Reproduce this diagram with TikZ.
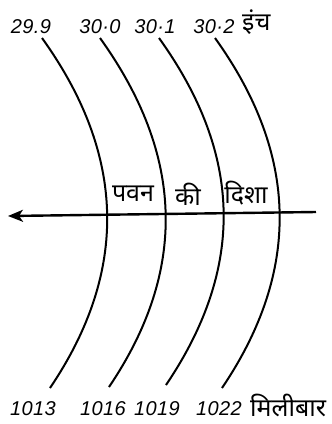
\documentclass[tikz,border=0pt]{standalone}
\usepackage{fontspec}
\newfontfamily\hindi[Script=Devanagari]{Noto Sans}
\newfontfamily\numfont[LetterSpace=2]{Liberation Sans}
\usetikzlibrary{arrows.meta}

\begin{document}
\begin{tikzpicture}[
  x=1pt, y=-1pt,
  >={Stealth[length=15pt,width=12pt,inset=4pt]},
  num/.style={font=\fontsize{20}{20}\selectfont\numfont\itshape, inner sep=0pt},
  hin/.style={font=\fontsize{25}{25}\selectfont\hindi, inner sep=0pt},
  isobar/.style={line width=2pt},
  wind/.style={->, line width=2.4pt}
]
\useasboundingbox (0,0) rectangle (332,424);

% ends of the isobars
\coordinate (t1) at (42,38);  \coordinate (b1) at (50,388);
\coordinate (t2) at (100,38); \coordinate (b2) at (109,387);
\coordinate (t3) at (159,38); \coordinate (b3) at (166,385);
\coordinate (t4) at (215,38); \coordinate (b4) at (222,388);

% pressure in inches
\node[num] (in1) at (31,27) {29.9};
\node[num] (in2) at (100,27) {30·0};
\node[num] (in3) at (155,27) {30·1};
\node[num] (in4) at (214,27) {30·2};
\node[hin, anchor=west] (inch) at (242,22) {इंच};

% pressure in millibars
\node[num] (mb1) at (33,409) {1013};
\node[num] (mb2) at (103,409) {1016};
\node[num] (mb3) at (157,409) {1019};
\node[num] (mb4) at (219,409) {1022};
\node[hin, anchor=west] (mbar) at (250,405) {मिलीबार};

\draw[isobar] (t1) .. controls +(84,117) and +(79,-117) .. (b1);
\draw[isobar] (t2) .. controls +(84,117) and +(79,-117) .. (b2);
\draw[isobar] (t3) .. controls +(84,117) and +(79,-117) .. (b3);
\draw[isobar] (t4) .. controls +(84,117) and +(79,-117) .. (b4);

% wind
\coordinate (wr) at (316,212);
\coordinate (wl) at (8,216);
\draw[wind] (wr) -- (wl);

\node[hin] (pavan) at (133,194) {पवन};
\node[hin] (ki) at (188,194) {की};
\node[hin] (disha) at (246,193) {दिशा};
\end{tikzpicture}
\end{document}
